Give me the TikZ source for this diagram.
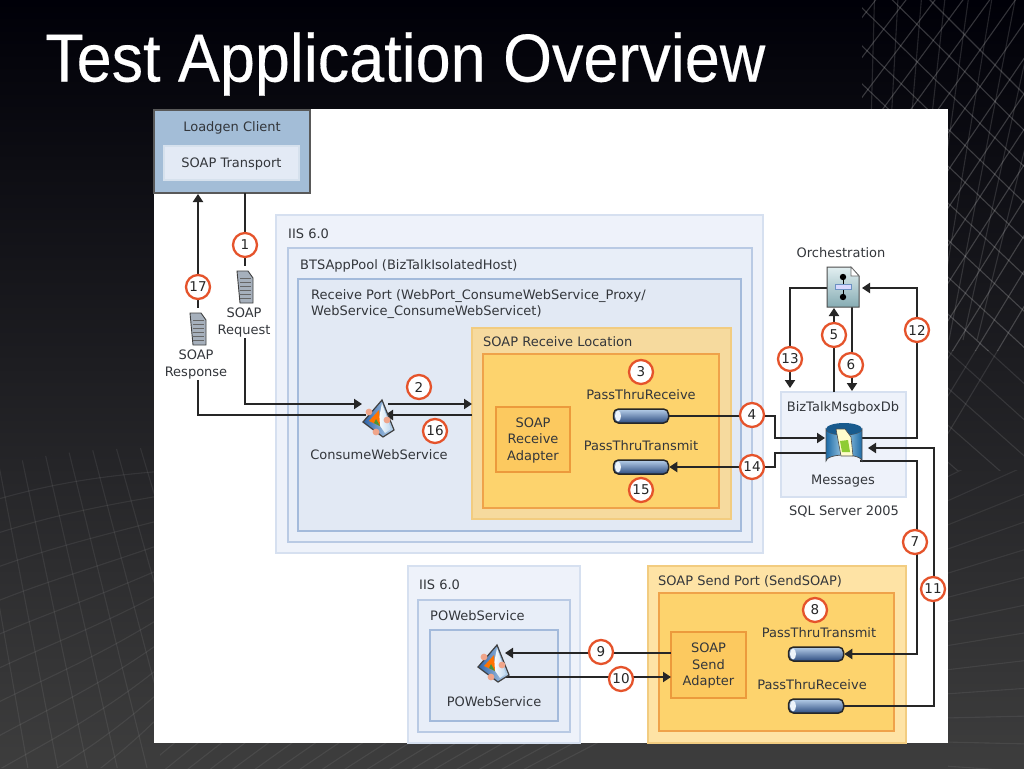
\documentclass[tikz,border=0pt]{standalone}
\usepackage{fontspec}
\usetikzlibrary{arrows.meta}
\setmainfont{DejaVu Sans}
\newfontfamily\titlefont[FakeBold=0.3]{Liberation Sans}
\definecolor{inktext}{HTML}{33363B}
\definecolor{numred}{HTML}{E5532B}
\definecolor{ltblue}{HTML}{EEF2FA}
\definecolor{ltblueb}{HTML}{D6E0F0}
\definecolor{mdblue}{HTML}{E8EEF8}
\definecolor{mdblueb}{HTML}{B9CAE4}
\definecolor{dkblue}{HTML}{E2E9F4}
\definecolor{dkblueb}{HTML}{A3BADB}
\definecolor{ltorange}{HTML}{F6DA9E}
\definecolor{ltorangeb}{HTML}{F2CC80}
\definecolor{sendorange}{HTML}{FEE3A5}
\definecolor{mdorange}{HTML}{FDD36D}
\definecolor{mdorangeb}{HTML}{EFA24A}
\definecolor{adorange}{HTML}{FCC95F}
\definecolor{adorangeb}{HTML}{EC9A3C}
\definecolor{steelblue}{HTML}{A3BDD7}
\definecolor{steelin}{HTML}{E3EAF5}
\definecolor{pipetop}{HTML}{B7CFEA}
\definecolor{pipemid}{HTML}{7097CB}
\definecolor{pipelow}{HTML}{2D4C80}
\definecolor{dbblue}{HTML}{1C6AA6}
\definecolor{dblight}{HTML}{A5CFE8}
\definecolor{orchtop}{HTML}{E2EFF1}
\definecolor{orchlow}{HTML}{86ACB3}
\definecolor{wsdark}{HTML}{2C62A8}
\definecolor{wslight}{HTML}{BFD8EE}
\definecolor{wsnub}{HTML}{F0A58A}
\tikzset{
  box/.style = {anchor=north west, inner sep=0, outer sep=0, line width=1.2pt},
  lbl/.style = {font=\fontsize{13}{16.5}\selectfont, text=inktext, inner sep=0, align=center, yshift=-1pt},
  lblw/.style = {lbl, anchor=west, align=left},
  lblbg/.style = {lbl, fill=white, inner sep=1pt},
  num/.style = {draw=numred, line width=2.3pt, circle, fill=white, minimum size=24pt, inner sep=0, font=\fontsize{13.5}{14}\selectfont, text=black!85},
  flow/.style = {line width=2pt, draw=black!85, -{Triangle[length=8pt,width=10pt]}},
  pipe/.style = {draw=black!85, line width=1.5pt, rounded corners=5pt, minimum width=55pt, minimum height=14pt, inner sep=0,
    top color=pipetop, middle color=pipemid, bottom color=pipelow,
    path picture={\fill[white!75!pipetop] (path picture bounding box.west) ++(4.5pt,0) ellipse (3pt and 5.5pt);}},
  lat/.style = {draw=white!75!black, opacity=.27, line width=1.1pt},
  latfaint/.style = {draw=white, opacity=.07, line width=1.1pt},
  soapdoc/.pic = {
    \fill[white!70!wsdark!60!gray, draw=black!75, line width=.9pt] (-8,-16) -- (3,-16) -- (8,-9) -- (8,16) -- (-5,16) -- cycle;
    \foreach \yy in {-9,-5,...,11} \draw[black!60, line width=.8pt] (-5,\yy) -- (6,\yy);
  },
  orchdoc/.pic = {
    \shade[top color=orchtop, bottom color=orchlow, draw=black!70, line width=1pt] (-16,-20) -- (8,-20) -- (16,-11) -- (16,20) -- (-16,20) -- cycle;
    \fill[white, draw=black!60, line width=.6pt] (8,-20) -- (8,-11) -- (16,-11) -- cycle;
    \draw[black, line width=1pt] (0,-10) -- (0,10);
    \fill[black] (0,-10) circle (3.2pt);
    \fill[black] (0,10) circle (3.2pt);
    \fill[white!85!blue, draw=wsdark!70, line width=.7pt] (-8,-2.5) rectangle (8,2.5);
  },
  wsicon/.pic = {
    \shade[left color=wsdark, right color=wslight, draw=black!75, line width=1.2pt] (3,-18) -- (15,12) -- (4,19) -- (-16,4) -- cycle;
    \shade[left color=white, right color=wslight] (3,-15) -- (12,11) -- (6,15) -- (-1,5) -- cycle;
    \fill[orange!90!red] (0,-8) -- (1,8) -- (-10,3) -- cycle;
    \fill[green!45!black!75] (-3,1) -- (1,8) -- (-5,5) -- cycle;
    \fill[wsnub] (-10,-6) circle (3.4pt);
    \fill[wsnub] (8,2) circle (3.4pt);
    \fill[wsnub] (-3,14) circle (3.4pt);
  },
  msgdb/.pic = {
    \shade[left color=dbblue, right color=dbblue, middle color=dblight, draw=black!70, line width=.7pt]
      (-18,-16) -- (-18,16) arc[start angle=180, end angle=360, x radius=18, y radius=6] -- (18,-16) arc[start angle=0, end angle=180, x radius=18, y radius=6] -- cycle;
    \fill[dbblue!85!black] (0,-16) ellipse (18pt and 6pt);
    \fill[white!80!yellow, draw=black!70, line width=.6pt] (-8,-16) -- (1,-16) -- (7,-8) -- (9,11) -- (-3,11) -- cycle;
    \fill[green!40!yellow!60!gray] (-4,-4) -- (4,-5) -- (6,7) -- (-2,7) -- cycle;
  },
}
\begin{document}
\begin{tikzpicture}[x=1pt, y=-1pt]
\useasboundingbox (0,0) rectangle (1024,768);
% backdrop
\shade[top color=black!97!blue, middle color=black!86, bottom color=black!76] (0,0) rectangle (1024,768);
\begin{scope}
  \clip (862,0) rectangle (1024,350);
  \foreach \i in {0,...,14} \draw[lat] (860, 20+\i*40) -- (1040, -210+\i*35);
  \foreach \i in {0,...,13} \draw[lat] (860, -70+\i*38) -- (1040, 110+\i*36);
  \foreach \i in {0,...,8} \draw[lat, opacity=.18] (875+\i*24, -20) -- (865+\i*14, 340);
\end{scope}
\begin{scope}
  \clip (948,350) rectangle (1024,470);
  \foreach \i in {0,...,14} \draw[lat, opacity=.14] (860, 20+\i*40) -- (1040, -210+\i*35);
  \foreach \i in {0,...,13} \draw[lat, opacity=.14] (860, -70+\i*38) -- (1040, 110+\i*36);
\end{scope}
\begin{scope}
  \clip (948,470) rectangle (1024,768);
  \foreach \i in {0,...,14} \draw[latfaint] (945, 430+\i*24) -- (1030, 380+\i*28);
\end{scope}
\begin{scope}
  \clip (0,466) .. controls (50,452) and (100,448) .. (160,448) -- (160,768) -- (0,768) -- cycle;
  \foreach \i in {0,...,11} \draw[latfaint] (-5, 466+\i*34) .. controls (50,452+\i*32) and (100,446+\i*30) .. (165, 447+\i*24);
  \foreach \i in {0,...,9} \draw[latfaint] (-30+\i*24, 440) -- (30+\i*30, 780);
\end{scope}
\begin{scope}
  \clip (160,740) rectangle (860,768);
  \foreach \i in {0,...,18} \draw[latfaint] (130+\i*22, 780) -- (190+\i*24, 730);
\end{scope}
\fill[white] (154,109) rectangle (948,743);
\node[font=\titlefont\fontsize{68}{68}\selectfont, text=white, anchor=west, inner sep=0, xscale=.925] (title) at (45,64) {Test Application Overview};
% client
\node[box, fill=steelblue, draw=black!65, line width=1.6pt, minimum width=156pt, minimum height=83pt] (loadgen) at (154,110) {};
\node[box, fill=steelin, draw=white!55!steelblue, minimum width=135pt, minimum height=34pt] (transport) at (164,146) {};
\node[lbl] (loadgenlbl) at (232,127) {Loadgen Client};
\node[lbl] (transportlbl) at (transport.center) {SOAP Transport};
% iis and receive side
\node[box, fill=ltblue, draw=ltblueb, minimum width=487pt, minimum height=338pt] (iis) at (276,215) {};
\node[box, fill=mdblue, draw=mdblueb, minimum width=464pt, minimum height=294pt] (pool) at (288,248) {};
\node[box, fill=dkblue, draw=dkblueb, minimum width=443pt, minimum height=252pt] (rport) at (298,279) {};
\node[box, fill=ltorange, draw=ltorangeb, minimum width=259pt, minimum height=191pt] (rloc) at (472,328) {};
\node[box, fill=mdorange, draw=mdorangeb, minimum width=236pt, minimum height=154pt] (rlocin) at (483,354) {};
\node[box, fill=adorange, draw=adorangeb, minimum width=74pt, minimum height=65pt] (radapter) at (496,407) {};
\node[lblw] (iislbl) at (288,233) {IIS 6.0};
\node[lblw] (poollbl) at (300,265) {BTSAppPool (BizTalkIsolatedHost)};
\node[lblw] (rportlbl) at (311,303) {Receive Port (WebPort\_ConsumeWebService\_Proxy/\\WebService\_ConsumeWebServicet)};
\node[lblw] (rloclbl) at (483,341) {SOAP Receive Location};
\node[lbl] (radapterlbl) at (radapter.center) {SOAP\\Receive\\Adapter};
\node[lbl] (ptrlbl) at (641,394) {PassThruReceive};
\node[lbl] (pttlbl) at (641,445) {PassThruTransmit};
\node[pipe] (ptr) at (641,416) {};
\node[pipe] (ptt) at (641,467) {};
\node[lbl] (wslbl) at (379,454) {ConsumeWebService};
% sql side
\node[box, fill=ltblue, draw=ltblueb, minimum width=125pt, minimum height=105pt] (msgbox) at (781,392) {};
\node[lbl] (msgboxlbl) at (843,407) {BizTalkMsgboxDb};
\node[lbl] (msglbl) at (843,480) {Messages};
\node[lbl] (sqllbl) at (844,511) {SQL Server 2005};
\node[lbl] (orchlbl) at (841,252) {Orchestration};
% send side
\node[box, fill=ltblue, draw=ltblueb, minimum width=172pt, minimum height=177pt] (iisb) at (408,566) {};
\node[box, fill=mdblue, draw=mdblueb, minimum width=152pt, minimum height=132pt] (posvc) at (418,600) {};
\node[box, fill=dkblue, draw=dkblueb, minimum width=128pt, minimum height=91pt] (posvcin) at (430,630) {};
\node[lblw] (iisblbl) at (419,584) {IIS 6.0};
\node[lblw] (posvclbl) at (430,615) {POWebService};
\node[lbl] (posvcinlbl) at (494,701) {POWebService};
\node[box, fill=sendorange, draw=ltorangeb, minimum width=258pt, minimum height=177pt] (sport) at (648,566) {};
\node[box, fill=mdorange, draw=mdorangeb, minimum width=235pt, minimum height=138pt] (sportin) at (659,593) {};
\node[box, fill=adorange, draw=adorangeb, minimum width=75pt, minimum height=66pt] (sadapter) at (671,632) {};
\node[lblw] (sportlbl) at (658,580) {SOAP Send Port (SendSOAP)};
\node[lbl] (sadapterlbl) at (sadapter.center) {SOAP\\Send\\Adapter};
\node[lbl] (spttlbl) at (819,632) {PassThruTransmit};
\node[lbl] (sptrlbl) at (812,684) {PassThruReceive};
\node[pipe] (sptt) at (816,654) {};
\node[pipe] (sptr) at (816,706) {};
% connector ends
\coordinate (reqtop) at (245,193);
\coordinate (wsin) at (362,404);
\coordinate (wsout) at (366,415);
\coordinate (lgin) at (198,194);
\coordinate (wsr) at (388,404);
\coordinate (rlin) at (472,404);
\coordinate (rlout) at (472,415);
\coordinate (wsback) at (385,415);
\coordinate (kink4) at (775,416);
\coordinate (msgin) at (825,438);
\coordinate (msgout) at (826,453);
\coordinate (kink14) at (775,467);
\coordinate (msgtop5) at (834,392);
\coordinate (orch5) at (834,308);
\coordinate (orch6) at (852,307);
\coordinate (msgtop6) at (852,391);
\coordinate (orch13) at (827,288);
\coordinate (msgtop13) at (790,388);
\coordinate (msg12) at (862,438);
\coordinate (kink12a) at (917,438);
\coordinate (kink12b) at (917,288);
\coordinate (orch12) at (862,288);
\coordinate (msg7) at (860,461);
\coordinate (kink7) at (917,654);
\coordinate (kink11) at (934,706);
\coordinate (kink11b) at (934,448);
\coordinate (msg11) at (868,448);
\coordinate (ws9) at (505,653);
\coordinate (ad9) at (671,653);
\coordinate (ws10) at (505,677);
\coordinate (ad10) at (671,677);
% connectors
\draw[flow] (reqtop) |- (wsin);
\draw[flow] (wsout) -| (lgin);
\draw[flow] (wsr) -- (rlin);
\draw[flow] (rlout) -- (wsback);
\draw[flow] (ptr.east) -- (kink4) |- (msgin);
\draw[flow] (msgout) -| (kink14) -- (ptt.east);
\draw[flow] (msgtop5) -- (orch5);
\draw[flow] (orch6) -- (msgtop6);
\draw[flow] (orch13) -| (msgtop13);
\draw[flow] (msg12) -- (kink12a) -- (kink12b) -- (orch12);
\draw[flow] (msg7) -| (kink7) -- (sptt.east);
\draw[flow] (sptr.east) -- (kink11) -- (kink11b) -- (msg11);
\draw[flow] (ad9) -- (ws9);
\draw[flow] (ws10) -- (ad10);
% icons
\node[inner sep=0, minimum width=32pt, minimum height=38pt] (ws) at (379,418) {};
\pic at (ws) {wsicon};
\node[inner sep=0, minimum width=32pt, minimum height=38pt] (pows) at (494,663) {};
\pic at (pows) {wsicon};
\node[inner sep=0, minimum width=32pt, minimum height=40pt] (orch) at (843,287) {};
\pic at (orch) {orchdoc};
\node[inner sep=0, minimum width=36pt, minimum height=44pt] (msgs) at (844,445) {};
\pic at (msgs) {msgdb};
\node[inner sep=0, minimum width=18pt, minimum height=42pt, fill=white] (reqdoc) at (245,287) {};
\pic at (reqdoc) {soapdoc};
\node[lblbg] (reqlbl) at (244,321.5) {SOAP\\Request};
\node[inner sep=0, minimum width=18pt, minimum height=42pt, fill=white] (respdoc) at (198,329) {};
\pic at (respdoc) {soapdoc};
\node[lblbg] (resplbl) at (196,363.5) {SOAP\\Response};
% numbers
\node[num] (n1) at (245,245) {1};
\node[num] (n2) at (419,387) {2};
\node[num] (n3) at (641,372) {3};
\node[num] (n4) at (752,415) {4};
\node[num] (n5) at (834,335) {5};
\node[num] (n6) at (851,365) {6};
\node[num] (n7) at (915,542) {7};
\node[num] (n8) at (815,610) {8};
\node[num] (n9) at (601,652) {9};
\node[num] (n10) at (621,679) {10};
\node[num] (n11) at (933,589) {11};
\node[num] (n12) at (917,330) {12};
\node[num] (n13) at (790,359) {13};
\node[num] (n14) at (752,467) {14};
\node[num] (n15) at (641,490) {15};
\node[num] (n16) at (435,431) {16};
\node[num] (n17) at (198,287) {17};
\end{tikzpicture}
\end{document}
